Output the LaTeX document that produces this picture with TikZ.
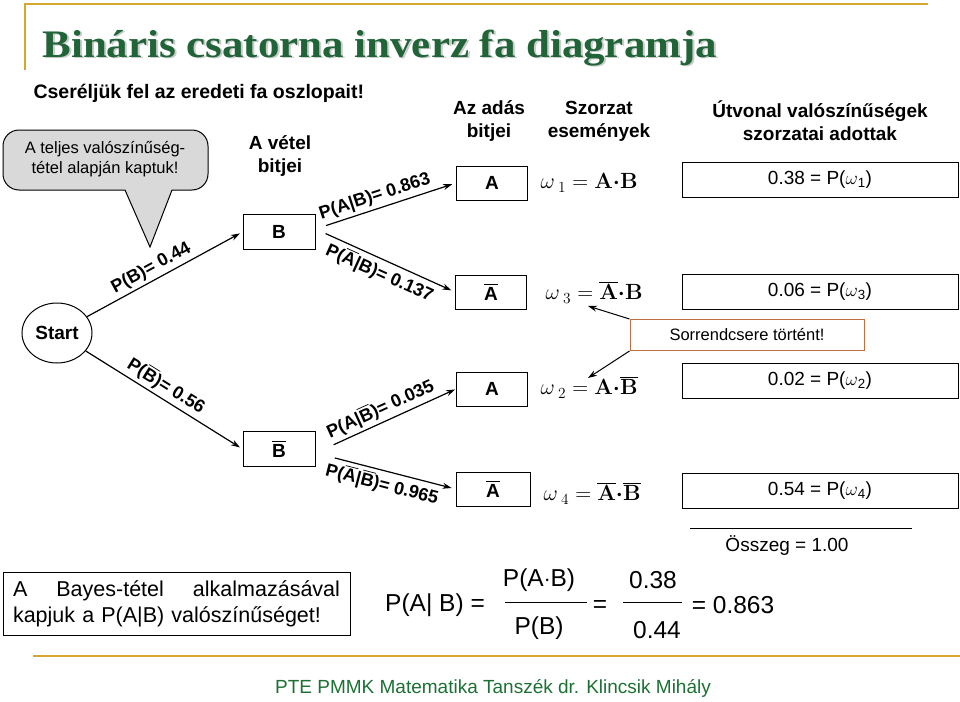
\documentclass[tikz,border=0pt]{standalone}
\usepackage{fix-cm}
\usepackage{amsmath}
\usepackage[no-math]{fontspec}
\setmainfont{Liberation Sans}
\newfontfamily\titlefont{Liberation Serif}
\usetikzlibrary{arrows.meta,calc,positioning,shapes.geometric}
\definecolor{gold}{RGB}{212,168,44}
\definecolor{titlegreen}{RGB}{32,100,56}
\definecolor{footgreen}{RGB}{28,112,52}
\definecolor{callgray}{RGB}{217,217,217}
\definecolor{notebrown}{RGB}{192,112,64}
\newcommand{\fsz}[2]{\fontsize{#1}{#2}\selectfont}
\newcommand{\ov}[1]{$\overline{\mbox{#1}}$}
\newcommand{\bdot}{{\boldsymbol\cdot}}

\begin{document}
\begin{tikzpicture}[x=1pt,y=-1pt,font=\fsz{19}{23},line width=1pt,
  arr/.style={-{Stealth[length=9pt,width=6pt]},line width=1.2pt},
  bitbox/.style={draw,minimum width=72pt,minimum height=35pt,inner sep=0pt,font=\fsz{19}{23}\bfseries},
  probbox/.style={draw,minimum width=276pt,minimum height=35pt,inner sep=0pt},
  head/.style={align=center,font=\fsz{19}{23}\bfseries},
  lbl/.style={sloped,inner sep=3pt,font=\fsz{18}{22}\bfseries},
  omega/.style={anchor=west,inner sep=0pt,font=\fsz{22}{26}}]
\useasboundingbox (0,0) rectangle (960,701);
% title and rules
\draw[gold,line width=2.5pt] (25,70) -- (25,4) -- (928,4);
\draw[gold,line width=2.5pt] (33,656) -- (960,656);
\node[anchor=base west,inner sep=0pt,text=gray!40,font=\titlefont\fsz{39}{44}\bfseries] at (44,59)
  {\scalebox{1.1}[1]{Bináris csatorna inverz fa diagramja}};
\node[anchor=base west,inner sep=0pt,text=titlegreen,font=\titlefont\fsz{39}{44}\bfseries] (title) at (42,57)
  {\scalebox{1.1}[1]{Bináris csatorna inverz fa diagramja}};
\node[anchor=west,inner sep=0pt,font=\fsz{19.5}{23}\bfseries] (swap) at (33,93) {Cseréljük fel az eredeti fa oszlopait!};
% callout
\draw[fill=callgray] (150,247) -- (125,190) [rounded corners=16pt] -- (3,190) -- (3,130) -- (208,130)
  -- (208,190) [sharp corners] -- (172,190) -- cycle;
\node[align=center,font=\fsz{16.5}{20}] (hint) at (105,159) {A teljes valószínűség-\\tétel alapján kaptuk!};
% column heads
\node[head] (recv) at (280,156) {A vétel\\bitjei};
\node[head] (sent) at (489,121) {Az adás\\bitjei};
\node[head] (prod) at (599,121) {Szorzat\\események};
\node[head] (paths) at (820,121) {Útvonal valószínűségek\\szorzatai adottak};
% tree
\node[draw,ellipse,minimum width=70pt,minimum height=60pt,inner sep=0pt,font=\fsz{19}{23}\bfseries] (start) at (57,333) {Start};
\node[bitbox] (b) at (279,232) {B};
\node[bitbox] (bb) at (279,449) {\ov{B}};
\node[bitbox,minimum width=71pt,minimum height=34pt] (a1) at (492,183) {A};
\node[bitbox,minimum width=71pt,minimum height=34pt] (a2) at (491,292) {\ov{A}};
\node[bitbox,minimum width=71pt,minimum height=34pt] (a3) at (492,389) {A};
\node[bitbox,minimum width=74pt,minimum height=34pt] (a4) at (493,489) {\ov{A}};
\draw[arr,shorten >=3pt] (start) -- (b.west) node[lbl,pos=0.45,above] {P(B)= 0.44};
\draw[arr,shorten >=3pt] (start) -- (bb.west) node[lbl,pos=0.47,above] {P(\ov{B})= 0.56};
\draw[arr,shorten <=11pt,shorten >=4pt] ([yshift=3pt]b.east) -- (a1.west) node[lbl,pos=0.45,above] {P(A|B)= 0.863};
\draw[arr,shorten <=11pt,shorten >=4pt] ([yshift=3pt]b.east) -- (a2.west) node[lbl,pos=0.5,below] {P(\ov{A}|B)= 0.137};
\draw[arr,shorten <=20pt,shorten >=1pt] ([yshift=-4pt]bb.east) -- (a3.west) node[lbl,pos=0.5,above] {P(A|\ov{B})= 0.035};
\draw[arr,shorten <=20pt,shorten >=4pt] ([yshift=-4pt]bb.east) -- (a4.west) node[lbl,pos=0.5,below] {P(\ov{A}|\ov{B})= 0.965};
% product events
\node[omega] (w1) at (540,183) {$\omega_{\;1} = \mathbf{A}\bdot\mathbf{B}$};
\node[omega] (w3) at (545,292) {$\omega_{\;3} = \overline{\mathbf{A}}\bdot\mathbf{B}$};
\node[omega] (w2) at (540,387) {$\omega_{\;2} = \mathbf{A}\bdot\overline{\mathbf{B}}$};
\node[omega] (w4) at (543,493) {$\omega_{\;4} = \overline{\mathbf{A}}\bdot\overline{\mathbf{B}}$};
% path probabilities
\node[probbox] (p1) at (820,180) {0.38 = P($\omega$\textsubscript{1})};
\node[probbox] (p3) at (820,292) {0.06 = P($\omega$\textsubscript{3})};
\node[probbox] (p2) at (820,381) {0.02 = P($\omega$\textsubscript{2})};
\node[probbox] (p4) at (820,491) {0.54 = P($\omega$\textsubscript{4})};
\node[draw=notebrown,minimum width=234pt,minimum height=31pt,inner sep=0pt,font=\fsz{16.5}{20}] (note) at (747,335) {Sorrendcsere történt!};
\coordinate (t3) at (588,306);
\coordinate (t2) at (588,378);
\draw[arr,line width=1pt] (note.north west) -- (t3);
\draw[arr,line width=1pt] (note.south west) -- (t2);
\draw (690,528) -- (912,528);
\node (sum) at (787,546) {Összeg = 1.00};
% Bayes
\node[draw,text width=327pt,inner xsep=10pt,inner ysep=8pt,align=left,font=\fsz{21.5}{26}] (bayes) at (176.5,604)
  {A\hfill Bayes-tétel\hfill alkalmazásával\\kapjuk a P(A|B) valószínűséget!};
\begin{scope}[font=\fsz{24.5}{29}]
\node (cond) at (435,605) {P(A| B) =};
\node (num1) at (539,580) {P(A$\cdot$B)};
\node (den1) at (539,628) {P(B)};
\draw (505,602) -- (587,602);
\node (eq) at (600,606) {=};
\node (num2) at (653,580) {0.38};
\node (den2) at (657,630) {0.44};
\draw (623,602) -- (682,602);
\node (res) at (733,605) {= 0.863};
\end{scope}
% footer
\node[text=footgreen] (foot) at (493,688) {PTE PMMK Matematika Tanszék dr. Klincsik Mihály};
\end{tikzpicture}
\end{document}
